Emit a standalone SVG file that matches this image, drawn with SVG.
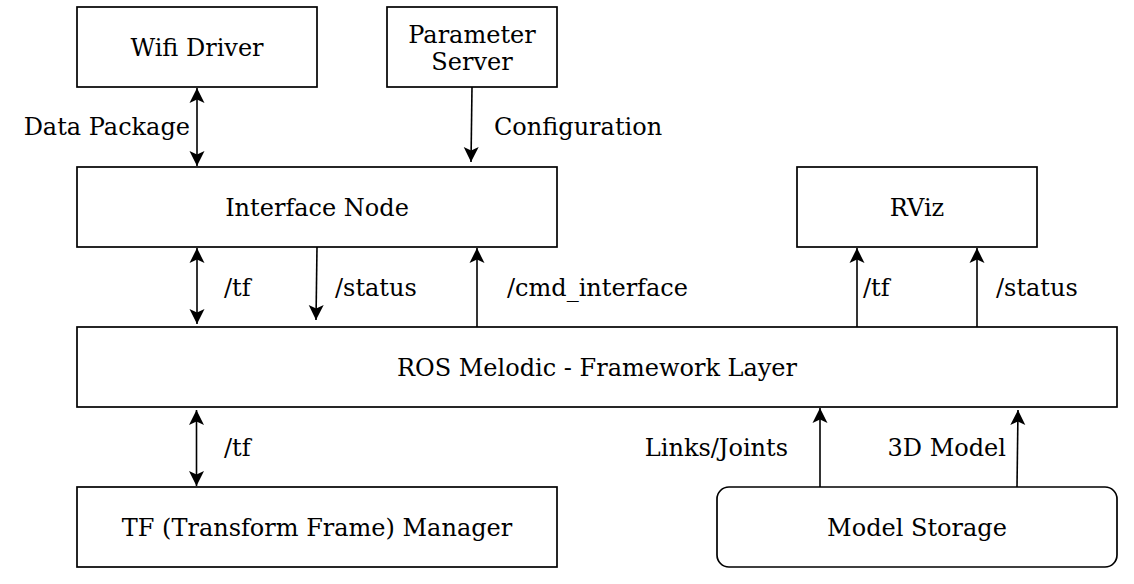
<svg xmlns="http://www.w3.org/2000/svg" width="1134" height="584" viewBox="0 0 1134 584">
<style>
  .box { fill: #ffffff; stroke: #000000; stroke-width: 1.7; }
  .t { font-family: "DejaVu Serif", "Liberation Serif", serif; font-size: 24px; fill: #000000; }
  .c { text-anchor: middle; }
  .e { text-anchor: end; }
  .ln { fill: none; stroke: #000000; stroke-width: 1.6; }
</style>
<defs>
  <marker id="arr" viewBox="-17 -9 18 18" refX="0" refY="0" markerWidth="18" markerHeight="18" markerUnits="userSpaceOnUse" orient="auto-start-reverse">
    <path d="M0,0 L-15,-7.5 L-11.5,0 L-15,7.5 Z" fill="#000000"/>
  </marker>
</defs>
<rect width="1134" height="584" fill="#ffffff"/>

<g id="connectors">
  <path class="ln" d="M197,88 L197,166" marker-start="url(#arr)" marker-end="url(#arr)"/>
  <path class="ln" d="M472,87 L471,162" marker-end="url(#arr)"/>
  <path class="ln" d="M197,248 L197,324" marker-start="url(#arr)" marker-end="url(#arr)"/>
  <path class="ln" d="M317,247 L316,320" marker-end="url(#arr)"/>
  <path class="ln" d="M477,327 L477,248" marker-end="url(#arr)"/>
  <path class="ln" d="M857,327 L857,248" marker-end="url(#arr)"/>
  <path class="ln" d="M977,327 L977,248" marker-end="url(#arr)"/>
  <path class="ln" d="M196.5,410 L196.5,486" marker-start="url(#arr)" marker-end="url(#arr)"/>
  <path class="ln" d="M820,487 L820,408" marker-end="url(#arr)"/>
  <path class="ln" d="M1017,487 L1018,410" marker-end="url(#arr)"/>
  <text class="t e" x="190" y="135">Data Package</text>
  <text class="t" x="494" y="135">Configuration</text>
  <text class="t" x="224" y="296">/tf</text>
  <text class="t" x="335" y="296">/status</text>
  <text class="t" x="507" y="296">/cmd_interface</text>
  <text class="t" x="863" y="296">/tf</text>
  <text class="t" x="996" y="296">/status</text>
  <text class="t" x="224" y="456">/tf</text>
  <text class="t e" x="788" y="456">Links/Joints</text>
  <text class="t e" x="1006" y="456">3D Model</text>
</g>

<g id="wifi-driver">
  <rect class="box" x="77" y="7" width="240" height="80"/>
  <text class="t c" x="197" y="56">Wifi Driver</text>
</g>
<g id="parameter-server">
  <rect class="box" x="387" y="7" width="170" height="80"/>
  <text class="t c" x="472" y="43">Parameter</text>
  <text class="t c" x="472" y="70">Server</text>
</g>
<g id="interface-node">
  <rect class="box" x="77" y="167" width="480" height="80"/>
  <text class="t c" x="317" y="216">Interface Node</text>
</g>
<g id="rviz">
  <rect class="box" x="797" y="167" width="240" height="80"/>
  <text class="t c" x="917" y="216">RViz</text>
</g>
<g id="ros-melodic">
  <rect class="box" x="77" y="327" width="1040" height="80"/>
  <text class="t c" x="597" y="376">ROS Melodic - Framework Layer</text>
</g>
<g id="tf-manager">
  <rect class="box" x="77" y="487" width="480" height="80"/>
  <text class="t c" x="317" y="536">TF (Transform Frame) Manager</text>
</g>
<g id="model-storage">
  <rect class="box" x="717" y="487" width="400" height="80" rx="12" ry="12"/>
  <text class="t c" x="917" y="536">Model Storage</text>
</g>
</svg>
